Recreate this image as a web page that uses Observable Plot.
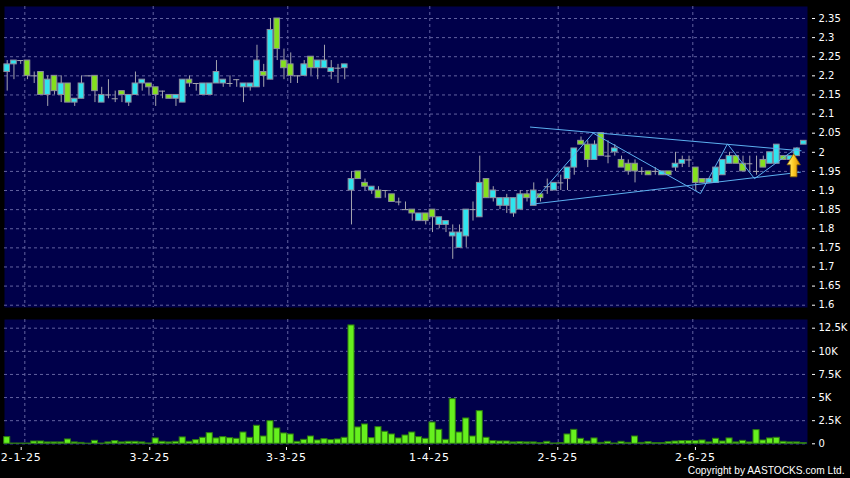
<!DOCTYPE html>
<html><head><meta charset="utf-8">
<script src="https://cdn.jsdelivr.net/npm/d3@7"></script>
<script src="https://cdn.jsdelivr.net/npm/@observablehq/plot@0.6"></script>
<style>
html,body{margin:0;padding:0;background:#000;}
#chart{width:850px;height:478px;overflow:hidden;background:#000;}
#chart svg{display:block;}
g[aria-label="x-axis tick label"] text{letter-spacing:0.8px;}
</style></head>
<body><div id="chart"></div>
<script>
// ---- data (trading-day index = array position) ----
const opens  = [2.21,2.23,2.24,2.24,2.20,2.21,2.15,2.20,2.15,2.18,2.13,2.14,2.20,2.20,2.13,2.15,2.14,2.16,2.13,2.15,
                2.18,2.18,2.17,2.16,2.15,2.14,2.13,2.19,2.18,2.15,2.15,2.18,2.18,2.18,2.19,2.17,2.17,2.17,2.21,2.19,
                2.35,2.24,2.23,2.20,2.20,2.25,2.22,2.22,2.21,2.22,2.22,1.90,1.95,1.92,1.90,1.90,1.90,1.89,1.87,1.85,
                1.85,1.82,1.84,1.85,1.81,1.81,1.78,1.75,1.78,1.85,1.83,1.93,1.88,1.86,1.86,1.84,1.85,1.89,1.86,1.89,
                1.91,1.90,1.92,1.93,1.96,2.03,2.02,1.98,2.05,1.99,2.00,1.98,1.97,1.97,1.95,1.95,1.95,1.94,1.95,1.96,
                1.97,1.98,1.96,1.93,1.92,1.92,1.94,1.97,1.99,1.97,1.97,1.95,1.98,1.97,1.97,1.99,1.98,1.99,2.02];
const highs  = [2.24,2.24,2.24,2.24,2.21,2.21,2.20,2.20,2.20,2.18,2.14,2.20,2.20,2.20,2.17,2.19,2.16,2.16,2.15,2.21,
                2.19,2.18,2.17,2.16,2.15,2.15,2.19,2.20,2.18,2.18,2.18,2.24,2.19,2.20,2.19,2.18,2.18,2.28,2.23,2.35,
                2.35,2.27,2.26,2.20,2.24,2.25,2.24,2.28,2.24,2.23,2.23,1.95,1.95,1.93,1.91,1.91,1.90,1.89,1.88,1.87,
                1.85,1.84,1.84,1.85,1.83,1.82,1.81,1.81,1.85,1.87,1.99,1.93,1.91,1.88,1.89,1.88,1.90,1.90,1.92,1.89,
                1.93,1.92,1.94,1.96,2.01,2.04,2.03,2.03,2.05,2.03,2.02,1.99,1.98,1.98,1.96,1.95,1.96,1.95,1.95,2.00,
                1.99,1.99,1.96,1.93,1.93,1.96,1.98,2.00,1.99,1.99,1.99,1.99,1.99,2.00,2.02,1.99,1.99,2.01,2.03];
const lows   = [2.16,2.19,2.23,2.19,2.18,2.15,2.12,2.15,2.13,2.13,2.12,2.14,2.20,2.13,2.13,2.14,2.13,2.13,2.12,2.15,
                2.16,2.15,2.12,2.14,2.14,2.12,2.13,2.17,2.16,2.15,2.15,2.18,2.17,2.17,2.17,2.13,2.16,2.17,2.17,2.19,
                2.24,2.19,2.18,2.18,2.20,2.20,2.19,2.22,2.19,2.18,2.19,1.81,1.93,1.90,1.89,1.88,1.88,1.87,1.86,1.85,
                1.82,1.82,1.81,1.79,1.80,1.79,1.72,1.75,1.75,1.82,1.83,1.88,1.87,1.85,1.84,1.83,1.85,1.87,1.86,1.87,
                1.89,1.90,1.90,1.90,1.94,2.02,1.96,1.98,1.99,1.97,1.99,1.96,1.94,1.92,1.94,1.94,1.94,1.94,1.94,1.95,
                1.96,1.96,1.90,1.92,1.92,1.92,1.94,1.97,1.97,1.95,1.95,1.94,1.96,1.97,1.97,1.98,1.98,1.99,2.02];
const closes = [2.23,2.24,2.24,2.20,2.20,2.15,2.19,2.16,2.18,2.13,2.14,2.18,2.20,2.16,2.15,2.15,2.14,2.15,2.15,2.18,
                2.19,2.17,2.15,2.16,2.14,2.15,2.19,2.18,2.18,2.18,2.18,2.21,2.19,2.18,2.19,2.18,2.18,2.24,2.20,2.32,
                2.27,2.22,2.20,2.20,2.23,2.22,2.24,2.24,2.22,2.22,2.23,1.93,1.93,1.91,1.91,1.88,1.90,1.87,1.87,1.85,
                1.84,1.84,1.82,1.83,1.83,1.82,1.79,1.79,1.85,1.85,1.92,1.88,1.90,1.88,1.88,1.88,1.89,1.88,1.90,1.88,
                1.91,1.92,1.92,1.96,2.01,2.02,1.98,2.02,1.99,1.99,2.01,1.96,1.95,1.95,1.95,1.94,1.95,1.95,1.94,1.97,
                1.98,1.98,1.92,1.92,1.93,1.96,1.98,1.99,1.97,1.95,1.97,1.95,1.96,2.00,2.02,1.98,1.99,2.01,2.03];
const volumes = [720,30,30,30,250,250,150,150,150,470, 150,100,20,320,30,150,290,150,215,215,
                 150,36,580,215,150,215,690,215,400,650, 1150,580,720,610,540,1220,650,1950,790,2450,
                 1660,1120,1010,215,430,790,360,500,400,470, 650,12800,1770,2090,610,1800,1300,1010,580,900,
                 1220,720,540,2300,1510,430,4830,1220,2740,790, 3530,650,290,250,250,150,180,150,150,70,
                 215,36,70,1010,1510,540,250,580,100,215, 36,215,100,790,100,180,70,70,180,250,
                 290,290,290,360,150,540,250,580,150,320, 150,1480,360,580,650,215,150,150,70];

const priceTicks = [1.6,1.65,1.7,1.75,1.8,1.85,1.9,1.95,2.0,2.05,2.1,2.15,2.2,2.25,2.3,2.35];
const volumeTicks = [0,2500,5000,7500,10000,12500];
const volumeTickLabels = ["0","2.5K","5K","7.5K","10K","12.5K"];
const dateTickPos = [2.07,21.12,41.37,62.55,81.56,101.95];
const dateGridPos = [2.61,21.63,41.56,62.6,81.62,101.56];
const dateTickLabels = ["2-1-25","3-2-25","3-3-25","1-4-25","2-5-25","2-6-25"];

// drawn trend annotations (index, price)
const upperTrend = [{i:77.5,p:2.066},{i:117.6,p:2.004}];
const lowerTrend = [{i:77.6,p:1.864},{i:117.5,p:1.948}];
const zigzag = [{i:77.6,p:1.864},{i:86.8,p:2.050},{i:102.7,p:1.892},{i:106.7,p:2.022},{i:110.7,p:1.931},{i:117.0,p:2.012}];
const signalArrow = [{i:116.5,p:1.996}];
const copyright = "Copyright by AASTOCKS.com Ltd.";

// ---- styles ----
const NAVY = "#00004a", GRID = "#6262a0", CYAN = "#2fe4ee", GREENC = "#84e01e";
const BODY_STROKE = "#8e8e9e", WICK = "#a4a4ae", VOL = "#66f01e", VOL_STROKE = "#2c7a10", TREND = "#5cb0f0";
const FONT = "DejaVu Sans, Verdana, sans-serif";

const candles = opens.map((o, i) => ({i, open: o, high: highs[i], low: lows[i], close: closes[i], volume: volumes[i]}));
const bodies = candles.filter(d => d.open !== d.close);
const dojis = candles.filter(d => d.open === d.close);
const xDomain = [-0.4, 118.55];
const labelOf = new Map(dateTickPos.map((p, k) => [p, dateTickLabels[k]]));
const volLabelOf = new Map(volumeTicks.map((v, k) => [v, volumeTickLabels[k]]));

const upArrow = {draw(ctx) {
  ctx.moveTo(0, 0); ctx.lineTo(6.7, 11); ctx.lineTo(3.3, 11); ctx.lineTo(3.3, 23);
  ctx.lineTo(-3.3, 23); ctx.lineTo(-3.3, 11); ctx.lineTo(-6.7, 11); ctx.closePath();
}};

const common = {
  width: 850,
  marginLeft: 4, marginRight: 43,
  style: {background: "transparent", color: "white", fontFamily: FONT, fontSize: "10px"},
  x: {type: "linear", domain: xDomain, axis: null}
};

const priceChart = Plot.plot({
  ...common,
  height: 313, marginTop: 6, marginBottom: 6,
  y: {domain: [1.594, 2.3814], axis: null, label: null},
  marks: [
    Plot.frame({fill: NAVY, stroke: null}),
    Plot.gridY(priceTicks, {stroke: GRID, strokeOpacity: 1, strokeDasharray: "3,3"}),
    Plot.ruleX(dateGridPos, {stroke: GRID, strokeOpacity: 1, strokeDasharray: "3,3"}),
    Plot.axisY(priceTicks, {anchor: "right", tickSize: 3, tickPadding: 4, dx: 4, label: null,
      tickFormat: d => String(+d.toFixed(2)), fill: "white", stroke: "white"}),
    Plot.ruleX(candles, {x: "i", y1: "low", y2: "high", stroke: WICK, strokeWidth: 1}),
    Plot.rect(bodies, {x1: d => d.i - 0.42, x2: d => d.i + 0.42, y1: "open", y2: "close",
      fill: d => d.close > d.open ? CYAN : GREENC, stroke: BODY_STROKE, strokeWidth: 1}),
    Plot.ruleY(dojis, {y: "open", x1: d => d.i - 0.45, x2: d => d.i + 0.45, stroke: WICK, strokeWidth: 1}),
    Plot.line(upperTrend, {x: "i", y: "p", stroke: TREND, strokeWidth: 1}),
    Plot.line(lowerTrend, {x: "i", y: "p", stroke: TREND, strokeWidth: 1}),
    Plot.line(zigzag, {x: "i", y: "p", stroke: TREND, strokeWidth: 1}),
    Plot.dot(signalArrow, {x: "i", y: "p", symbol: upArrow, fill: "url(#goldGrad)", stroke: "#8a6400", strokeWidth: 0.8})
  ]
});
d3.select(priceChart).insert("defs", ":first-child").html(
  '<linearGradient id="goldGrad" x1="0" x2="1" y1="0" y2="0">' +
  '<stop offset="0" stop-color="#fff38a"/><stop offset="0.45" stop-color="#ffd02a"/><stop offset="1" stop-color="#d98a00"/></linearGradient>');

const volumeChart = Plot.plot({
  ...common,
  height: 165, marginTop: 6, marginBottom: 34,
  y: {domain: [-76, 13441], axis: null, label: null},
  marks: [
    Plot.frame({fill: NAVY, stroke: null}),
    Plot.gridY(volumeTicks, {stroke: GRID, strokeOpacity: 1, strokeDasharray: "3,3"}),
    Plot.ruleX(dateGridPos, {stroke: GRID, strokeOpacity: 1, strokeDasharray: "3,3"}),
    Plot.axisY(volumeTicks, {anchor: "right", tickSize: 3, tickPadding: 4, dx: 4, label: null,
      tickFormat: d => volLabelOf.get(d), fill: "white", stroke: "white"}),
    Plot.axisX(dateTickPos, {anchor: "bottom", tickSize: 3, tickPadding: 3, dy: 3, label: null,
      tickFormat: d => labelOf.get(d), fontSize: 11, fill: "white", stroke: "white"}),
    Plot.rect(candles, {x1: d => d.i - 0.45, x2: d => d.i + 0.45, y1: 0, y2: "volume",
      fill: VOL, stroke: VOL_STROKE, strokeWidth: 1}),
    Plot.text([copyright], {frameAnchor: "bottom-right", dx: 37, dy: 26.5, textAnchor: "end",
      lineAnchor: "middle", fill: "white", fontSize: 10.2, fontFamily: "Liberation Sans, Arial, sans-serif"})
  ]
});

const root = document.getElementById("chart");
root.appendChild(priceChart);
root.appendChild(volumeChart);
</script></body></html>
